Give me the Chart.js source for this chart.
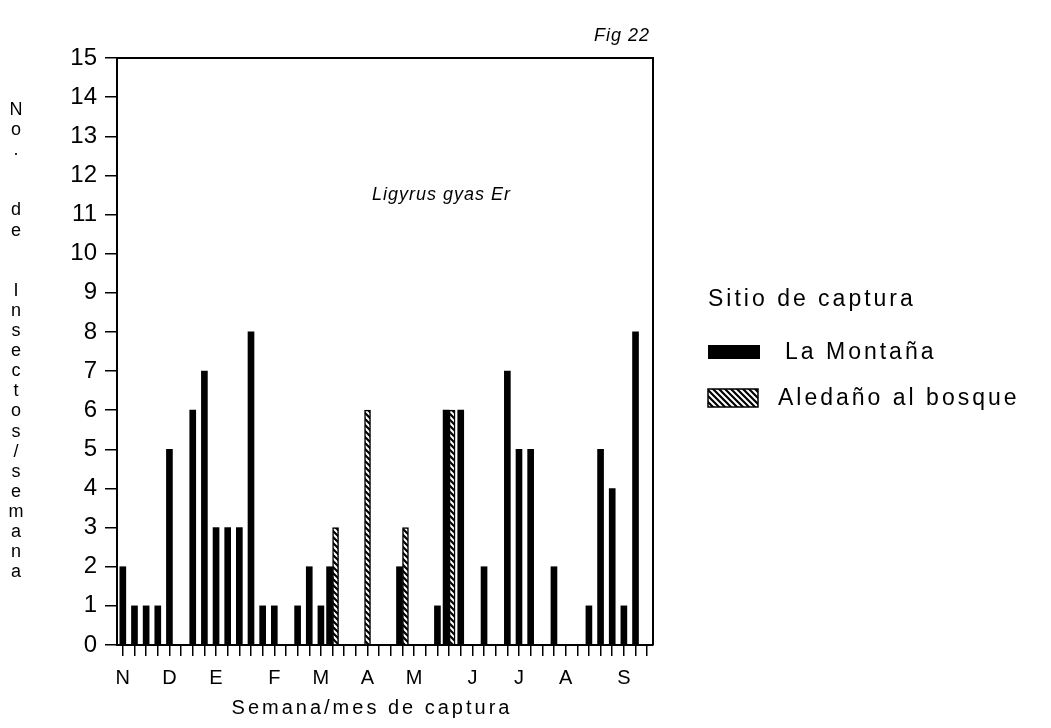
<!DOCTYPE html>
<html lang="es">
<head>
<meta charset="utf-8">
<title>Ligyrus gyas Er - Fig 22</title>
<script src="https://cdn.jsdelivr.net/npm/chart.js@4.4.1/dist/chart.umd.min.js"></script>
<style>
  html, body { margin: 0; padding: 0; background: #ffffff; }
  canvas { display: block; }
</style>
</head>
<body>
<canvas id="fig" width="1051" height="728"></canvas>
<script>
// Semanas de captura (noviembre a septiembre), una categoría por semana
const weeks = [
  'S1','S2','S3','S4','S5','S6','S7','S8','S9','S10',
  'S11','S12','S13','S14','S15','S16','S17','S18','S19','S20',
  'S21','S22','S23','S24','S25','S26','S27','S28','S29','S30',
  'S31','S32','S33','S34','S35','S36','S37','S38','S39','S40',
  'S41','S42','S43','S44','S45','S46'
];

// Inicial del mes mostrada bajo la semana correspondiente
const monthTicks = [
  'N','','','','D','','','','E','',
  '','','','F','','','','M','','',
  '','A','','','','M','','','','',
  'J','','','','J','','','','A','',
  '','','','S','',''
];

// Insectos capturados por semana en cada sitio (null = sin captura)
const laMontana = [
  2,1,1,1,5,null,6,7,3,3,
  3,8,1,1,null,1,2,1,2,null,
  null,null,null,null,2,null,null,1,6,6,
  null,2,null,7,5,5,null,2,null,null,
  1,5,4,1,8,null
];
const aledanoBosque = [
  null,null,null,null,null,null,null,null,null,null,
  null,null,null,null,null,null,null,null,3,null,
  null,6,null,null,3,null,null,null,6,null,
  null,null,null,null,null,null,null,null,null,null,
  null,null,null,null,null,null
];

const yTicks = [0,1,2,3,4,5,6,7,8,9,10,11,12,13,14,15];

const siteNames = ['La Montaña', 'Aledaño al bosque'];
const legendTitle = 'Sitio de captura';
const yTitle = ['N','o','.','','','d','e','','','I','n','s','e','c','t','o','s','/','s','e','m','a','n','a'];
const xTitle = 'Semana/mes de captura';
const speciesName = 'Ligyrus gyas Er';
const figLabel = 'Fig 22';

const FONT = '"Liberation Sans", Arial, Helvetica, sans-serif';

// Trama diagonal para el segundo sitio
function makeHatch() {
  const c = document.createElement('canvas');
  c.width = 6; c.height = 6;
  const g = c.getContext('2d');
  g.fillStyle = '#ffffff';
  g.fillRect(0, 0, 6, 6);
  g.strokeStyle = '#000000';
  g.lineWidth = 2.2;
  g.beginPath();
  g.moveTo(-3, -3); g.lineTo(9, 9);
  g.moveTo(-3, 3); g.lineTo(3, 9);
  g.moveTo(3, -3); g.lineTo(9, 3);
  g.stroke();
  return g.createPattern(c, 'repeat');
}
const ctx0 = document.getElementById('fig').getContext('2d');
const hatch = makeHatch();

// Textos, marco y leyenda dibujados sobre el gráfico
const decorations = {
  id: 'decorations',
  afterDraw(chart) {
    const ctx = chart.ctx;
    const a = chart.chartArea;
    ctx.save();
    ctx.strokeStyle = '#000';
    ctx.lineWidth = 2;
    ctx.beginPath();
    ctx.moveTo(a.left, a.top);
    ctx.lineTo(a.right, a.top);
    ctx.lineTo(a.right, a.bottom);
    ctx.stroke();

    ctx.fillStyle = '#000';
    ctx.textBaseline = 'middle';

    // Etiqueta de la figura y especie
    ctx.font = 'italic 18px ' + FONT;
    ctx.textAlign = 'right';
    ctx.letterSpacing = '1px';
    ctx.fillText(figLabel, 650, 36);
    ctx.textAlign = 'left';
    ctx.font = 'italic 18px ' + FONT;
    ctx.fillText(speciesName, 372, 195);

    // Título vertical del eje Y, letra por letra
    ctx.font = '18px ' + FONT;
    ctx.textAlign = 'center';
    ctx.letterSpacing = '0px';
    const y0 = 110, step = 20.1;
    yTitle.forEach((ch, i) => { if (ch) ctx.fillText(ch, 16, y0 + i * step); });

    // Título del eje X
    ctx.font = '20px ' + FONT;
    ctx.letterSpacing = '3px';
    ctx.fillText(xTitle, 372, 708);

    // Leyenda
    ctx.textAlign = 'left';
    ctx.font = '23px ' + FONT;
    ctx.letterSpacing = '3px';
    ctx.fillText(legendTitle, 708, 300);

    ctx.fillStyle = '#000';
    ctx.fillRect(708, 345, 52, 14);
    ctx.fillText(siteNames[0], 785, 353);

    ctx.fillStyle = hatch;
    ctx.fillRect(708, 389, 50, 18);
    ctx.strokeStyle = '#000';
    ctx.lineWidth = 1.5;
    ctx.strokeRect(708, 389, 50, 18);
    ctx.fillStyle = '#000';
    ctx.fillText(siteNames[1], 778, 399);
    ctx.restore();
  }
};

new Chart(ctx0, {
  type: 'bar',
  data: {
    labels: weeks,
    datasets: [
      {
        label: siteNames[0],
        data: laMontana,
        backgroundColor: '#000000',
        borderColor: '#000000',
        borderWidth: 0
      },
      {
        label: siteNames[1],
        data: aledanoBosque,
        backgroundColor: hatch,
        borderColor: '#000000',
        borderWidth: 1.5
      }
    ]
  },
  options: {
    responsive: false,
    animation: false,
    devicePixelRatio: 1,
    layout: { padding: { left: 0, top: 58, right: 398, bottom: 0 } },
    datasets: { bar: { barThickness: 6, skipNull: true, grouped: true } },
    plugins: {
      legend: { display: false },
      tooltip: { enabled: false },
      title: { display: false }
    },
    scales: {
      x: {
        type: 'category',
        offset: true,
        afterFit(s) { s.height = 83; },
        grid: {
          offset: false,
          drawOnChartArea: false,
          drawTicks: true,
          tickLength: 11,
          color: '#000',
          lineWidth: 1.5
        },
        border: { display: true, color: '#000', width: 2 },
        ticks: {
          autoSkip: false,
          maxRotation: 0,
          minRotation: 0,
          padding: 10,
          color: '#000',
          font: { family: FONT, size: 20 },
          callback: (v, i) => monthTicks[i]
        }
      },
      y: {
        min: yTicks[0],
        max: yTicks[yTicks.length - 1],
        afterFit(s) { s.width = 117; },
        afterBuildTicks(s) { s.ticks = yTicks.map(v => ({ value: v })); },
        grid: {
          drawOnChartArea: false,
          drawTicks: true,
          tickLength: 12,
          color: '#000',
          lineWidth: 1.5
        },
        border: { display: true, color: '#000', width: 2 },
        ticks: {
          padding: 8,
          color: '#000',
          font: { family: FONT, size: 24 }
        }
      }
    }
  },
  plugins: [decorations]
});
</script>
</body>
</html>
